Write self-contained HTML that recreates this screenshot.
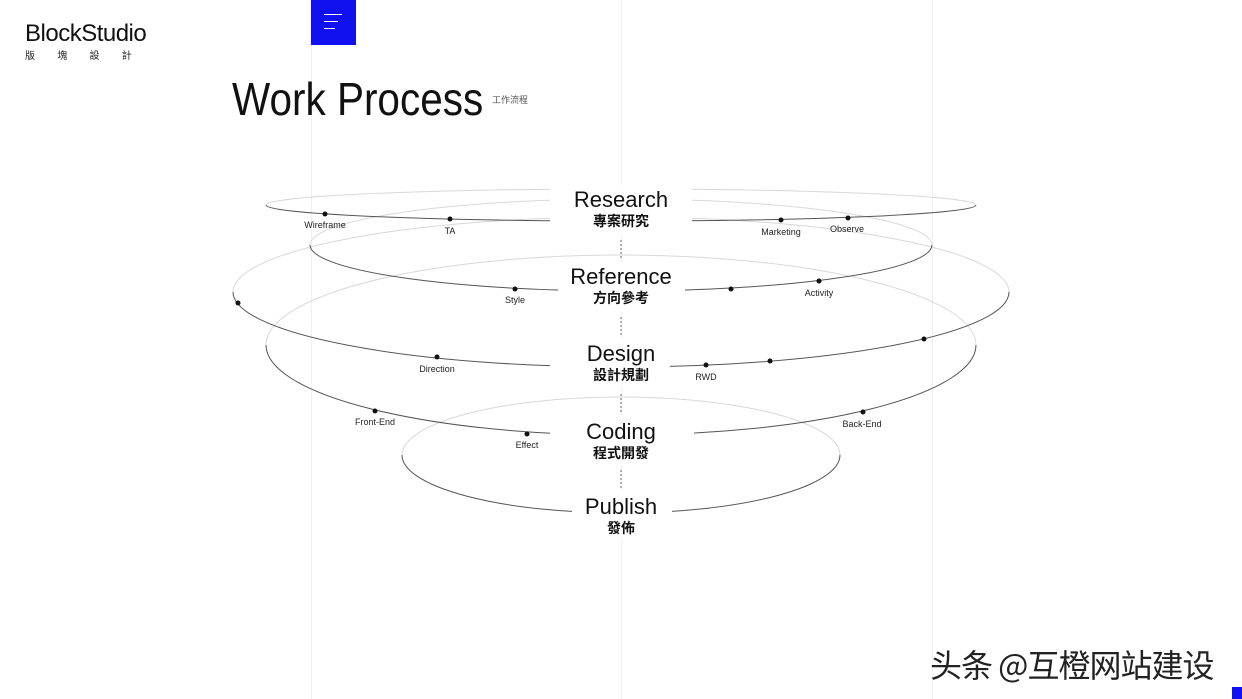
<!DOCTYPE html>
<html><head><meta charset="utf-8"><style>
body{margin:0;width:1242px;height:699px;background:#fff;overflow:hidden;position:relative;font-family:"Liberation Sans","Noto Sans CJK TC",sans-serif}
.v{position:absolute;top:0;width:1px;height:699px;background:#f0f0f0}
</style></head><body>
<div class="v" style="left:311px"></div><div class="v" style="left:621px"></div><div class="v" style="left:932px"></div>
<div style="position:absolute;left:311px;top:0;width:45px;height:45px;background:#1010f0"></div>
<div style="position:absolute;left:324px;top:14px;width:18px;height:1px;background:#fff"></div>
<div style="position:absolute;left:324px;top:21px;width:14px;height:1px;background:#fff"></div>
<div style="position:absolute;left:324px;top:28px;width:11px;height:1px;background:#fff"></div>
<div style="position:absolute;left:25px;top:20px;font-size:24px;color:#111;letter-spacing:-0.5px">BlockStudio</div>
<div style="position:absolute;left:25px;top:47px;font-size:10px;color:#222;word-spacing:20px;font-family:'Noto Sans CJK TC',sans-serif">版 塊 設 計</div>
<div style="position:absolute;left:232px;top:72px;font-size:46px;color:#111;transform:scaleX(0.88);transform-origin:left top;white-space:nowrap">Work Process</div>
<div style="position:absolute;left:492px;top:93px;font-size:9px;color:#555;font-family:'Noto Sans CJK TC',sans-serif">工作流程</div>
<svg width="1242" height="699" style="position:absolute;left:0;top:0" font-family="Liberation Sans, sans-serif">
<g fill="none" stroke="#d8d8d8" stroke-width="1">
<path d="M266,205 A355,16 0 0 1 976,205"/>
<path d="M310,245 A311,46 0 0 1 932,245"/>
<path d="M233,292 A388,75 0 0 1 1009,292"/>
<path d="M266,345 A355,90 0 0 1 976,345"/>
<path d="M402,455 A219,58 0 0 1 840,455"/>
</g>
<g fill="none" stroke="#555" stroke-width="1">
<path d="M266,205 A355,16 0 0 0 976,205"/>
<path d="M310,245 A311,46 0 0 0 932,245"/>
<path d="M233,292 A388,75 0 0 0 1009,292"/>
<path d="M266,345 A355,90 0 0 0 976,345"/>
<path d="M402,455 A219,58 0 0 0 840,455"/>
</g>
<g fill="#fff">
<rect x="550" y="185" width="142" height="50"/>
<rect x="558" y="262" width="127" height="50"/>
<rect x="550" y="338" width="120" height="50"/>
<rect x="550" y="415" width="144" height="50"/>
<rect x="572" y="490" width="100" height="50"/>
</g>
<g stroke="#666" stroke-dasharray="2,2">
<line x1="621" y1="240" x2="621" y2="258"/><line x1="621" y1="317" x2="621" y2="335"/>
<line x1="621" y1="394" x2="621" y2="412"/><line x1="621" y1="470" x2="621" y2="488"/>
</g>
<g fill="#111" text-anchor="middle" font-size="22">
<text x="621" y="207">Research</text><text x="621" y="284">Reference</text>
<text x="621" y="361">Design</text><text x="621" y="439">Coding</text><text x="621" y="514">Publish</text>
</g>
<g fill="#111" text-anchor="middle" font-size="14" font-family="Noto Sans CJK TC, sans-serif" font-weight="bold">
<text x="621" y="226">專案研究</text><text x="621" y="303">方向參考</text>
<text x="621" y="380">設計規劃</text><text x="621" y="458">程式開發</text><text x="621" y="533">發佈</text>
</g>
<g fill="#111">
<circle cx="325" cy="214" r="2.5"/><circle cx="450" cy="219" r="2.5"/><circle cx="781" cy="220" r="2.5"/><circle cx="848" cy="218" r="2.5"/>
<circle cx="515" cy="289" r="2.5"/><circle cx="731" cy="289" r="2.5"/><circle cx="819" cy="281" r="2.5"/>
<circle cx="238" cy="303" r="2.5"/><circle cx="437" cy="357" r="2.5"/><circle cx="706" cy="365" r="2.5"/><circle cx="770" cy="361" r="2.5"/><circle cx="924" cy="339" r="2.5"/>
<circle cx="375" cy="411" r="2.5"/><circle cx="527" cy="434" r="2.5"/><circle cx="863" cy="412" r="2.5"/>
</g>
<g fill="#222" text-anchor="middle" font-size="9">
<text x="325" y="228">Wireframe</text><text x="450" y="234">TA</text><text x="781" y="235">Marketing</text><text x="847" y="232">Observe</text>
<text x="515" y="303">Style</text><text x="819" y="296">Activity</text>
<text x="437" y="372">Direction</text><text x="706" y="380">RWD</text>
<text x="375" y="425">Front-End</text><text x="527" y="448">Effect</text><text x="862" y="427">Back-End</text>
</g>
</svg>
<div style="position:absolute;left:930px;top:641px;font-size:32px;color:#222;font-family:'Noto Sans CJK SC',sans-serif;letter-spacing:-1px;white-space:nowrap">头条 @互橙网站建设</div>
<div style="position:absolute;left:1232px;top:687px;width:10px;height:12px;background:#1010f0"></div>
</body></html>
